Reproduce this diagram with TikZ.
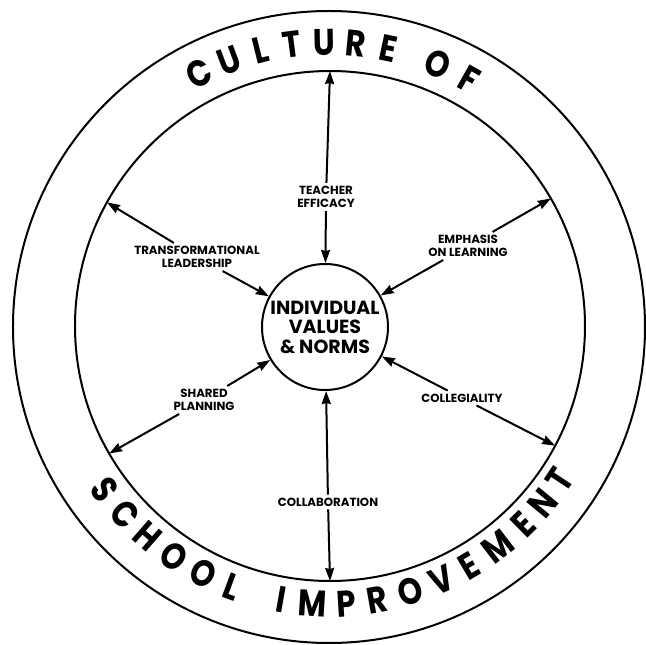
\documentclass[tikz,border=0pt]{standalone}
\usepackage{fontspec}
\setmainfont{Poppins}
\newfontfamily\arcfont[FakeStretch=0.84]{Poppins}
\usetikzlibrary{arrows.meta}
\begin{document}
\begin{tikzpicture}[x=1pt,y=1pt,
  ring/.style={line width=2pt},
  spoke/.style={line width=2pt,-{Stealth[length=13pt,width=9pt,inset=1pt]}},
  lbl/.style={font=\bfseries\fontsize{11.8}{13.2}\selectfont, align=center, inner sep=3pt},
  arcletter/.style={font=\arcfont\bfseries\fontsize{37}{37}\selectfont, inner sep=0pt, anchor=base}]
\useasboundingbox (-327,-318) rectangle (319,327);
\draw[ring] (2,0) circle (316);
\draw[ring] (3,1) circle (255);
\node[draw, circle, line width=2pt, minimum size=126pt, inner sep=0pt,
  font=\bfseries\fontsize{19}{19.5}\selectfont, align=center] (core) at (-2,0)
  {INDIVIDUAL\\VALUES\\\& NORMS};
% labels
\node[lbl] (te) at (-1,130) {TEACHER\\EFFICACY};
\node[lbl] (tl) at (-130,70) {TRANSFORMATIONAL\\LEADERSHIP};
\node[lbl] (el) at (141,81) {EMPHASIS\\ON LEARNING};
\node[lbl] (sp) at (-123,-73) {SHARED\\PLANNING};
\node[lbl] (cg) at (135,-71) {COLLEGIALITY};
\node[lbl] (cb) at (1,-175) {COLLABORATION};
% outer ends on the inner ring
\coordinate (te-o) at ([shift={(3,1)}]90:255);
\coordinate (tl-o) at ([shift={(3,1)}]151:255);
\coordinate (el-o) at ([shift={(3,1)}]30:255);
\coordinate (sp-o) at ([shift={(3,1)}]210:255);
\coordinate (cg-o) at ([shift={(3,1)}]332:255);
\coordinate (cb-o) at ([shift={(3,1)}]270:255);
\foreach \n in {te,tl,el,sp,cg,cb}{
  \draw[spoke] (\n) -- (\n-o);
  \draw[spoke] (\n) -- (core);
}
% curved titles
\foreach \ch/\a [count=\i] in {C/117, U/110.5, L/104, T/97.5, U/91, R/84.5, E/78, O/67.5, F/60.5}
  \node[arcletter, rotate=\a-90] (top\i) at ([shift={(2,0)}]\a:272) {\ch};
\foreach \ch/\a [count=\i] in {S/216, C/222.5, H/229, O/236, O/243, L/249.5, I/260, M/266.5, P/273.5, R/280, O/287, V/294, E/300.5, M/307.5, E/314.5, N/320.5, T/326.5}
  \node[arcletter, rotate=\a+90] (bot\i) at ([shift={(2,0)}]\a:290) {\ch};
\end{tikzpicture}
\end{document}
